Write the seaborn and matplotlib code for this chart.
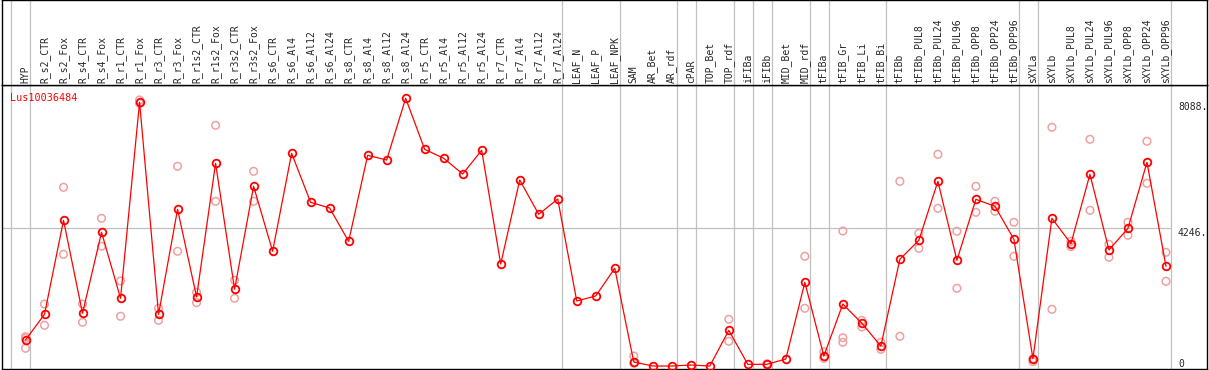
import pandas as pd
import numpy as np
import seaborn as sns
import matplotlib.pyplot as plt

# sample names, left to right
samples = [
    "HYP", "R_s2_CTR", "R_s2_Fox", "R_s4_CTR", "R_s4_Fox", "R_r1_CTR", "R_r1_Fox",
    "R_r3_CTR", "R_r3_Fox", "R_r1s2_CTR", "R_r1s2_Fox", "R_r3s2_CTR", "R_r3s2_Fox",
    "R_s6_CTR", "R_s6_Al4", "R_s6_Al12", "R_s6_Al24", "R_s8_CTR", "R_s8_Al4",
    "R_s8_Al12", "R_s8_Al24", "R_r5_CTR", "R_r5_Al4", "R_r5_Al12", "R_r5_Al24",
    "R_r7_CTR", "R_r7_Al4", "R_r7_Al12", "R_r7_Al24", "LEAF_N", "LEAF_P", "LEAF_NPK",
    "SAM", "AR_Bet", "AR_rdf", "cPAR", "TOP_Bet", "TOP_rdf", "iFIBa", "iFIBb",
    "MID_Bet", "MID_rdf", "tFIBa", "tFIB_Gr", "tFIB_Li", "tFIB_Bi", "tFIBb",
    "tFIBb_PUL8", "tFIBb_PUL24", "tFIBb_PUL96", "tFIBb_OPP8", "tFIBb_OPP24",
    "tFIBb_OPP96", "sXYLa", "sXYLb", "sXYLb_PUL8", "sXYLb_PUL24", "sXYLb_PUL96",
    "sXYLb_OPP8", "sXYLb_OPP24", "sXYLb_OPP96",
]

# mean expression per sample
means = [
    825, 1610, 4480, 1640, 4114, 2098, 8088, 1610, 4817, 2138, 6222, 2373, 5519,
    3534, 6527, 5030, 4856, 3839, 6466, 6322, 8207, 6649, 6375, 5895, 6619,
    3146, 5712, 4664, 5131, 2016, 2169, 3015,
    153, 30, 30, 61, 30, 1120, 82, 82, 244, 2587, 336, 1924, 1335, 641,
    3290, 3870, 5672, 3259, 5122, 4908, 3900,
    255, 4542, 3767, 5885, 3574, 4236, 6252, 3075,
]

# replicate values (empty where only the mean is shown)
replicates = [
    [925, 877, 571], [1924, 1274], [5489, 3442], [1924, 1365], [4542, 3687],
    [2627, 1549], [8155, 8054], [1793, 1426], [6130, 3534], [2282, 1965],
    [7382, 5061], [2648, 2098], [5977, 5061],
    [], [], [], [], [], [], [], [], [], [], [], [], [], [], [], [], [], [], [],
    [336, 113], [], [], [], [], [1457, 785], [], [95, 70], [], [3381, 1793],
    [467, 265], [4154, 895, 754], [1426, 1222], [754, 541], [5672, 938],
    [4084, 3625], [6497, 4847], [4145, 2404], [5519, 4725], [5061, 4756],
    [4420, 3381],
    [255, 163], [7321, 1762], [3839, 3676], [6955, 4786], [3748, 3350],
    [4420, 4023], [6894, 5611], [3503, 2618],
]

# last sample of each group (separator drawn just right of it)
group_ends = [-1, 0, 28, 31, 34, 35, 37, 38, 39, 41, 42, 45, 52, 53, 60]
axis_marks = ["8088.", "4246.", "0"]
gene = "Lus10036484"

mean_df = pd.DataFrame({"pos": np.arange(len(samples)), "value": means})
rep_df = pd.DataFrame(
    [(i, v) for i, vals in enumerate(replicates) for v in vals],
    columns=["pos", "value"],
)

sns.set_style("white")
plt.rcParams["font.family"] = ["DejaVu Sans Mono", "DejaVu Sans"]

W, H = 1209, 370
fig = plt.figure(figsize=(W / 100, H / 100), dpi=100)
ax = fig.add_axes([1.5 / W, 1 / H, 1205.5 / W, 284 / H])
hax = fig.add_axes([1.5 / W, 285 / H, 1205.5 / W, 84.6 / H], sharex=ax)

xlo, xhi = -1.263, 62.158
ax.set_xlim(xlo, xhi)
ax.set_ylim(-61, 8613)

grey = "#c0c0c0"
for g in group_ends:
    ax.axvline(g + 0.25, color=grey, lw=0.9, zorder=0)
    hax.axvline(g + 0.25, color=grey, lw=0.9, zorder=0)
ax.plot([xlo, 60.25], [4246, 4246], color=grey, lw=0.9, zorder=0)

sns.scatterplot(data=rep_df, x="pos", y="value", ax=ax, marker="o",
                facecolor="none", edgecolor="#f0a0a0", linewidth=1.1, s=30,
                zorder=2)
sns.lineplot(data=mean_df, x="pos", y="value", ax=ax, color="red", lw=0.9,
             marker="o", markersize=5.5, markerfacecolor="none",
             markeredgecolor="red", markeredgewidth=1.3, zorder=3)

ax.text(8 / 1205, 1 - 8 / 284, gene, transform=ax.transAxes, color="red",
        fontsize=7.3, ha="left", va="top")

lab_x = (1178 - 26) / 19
ax.text(lab_x, 8088, axis_marks[0], fontsize=7, ha="left", va="top")
ax.text(lab_x, 4246, axis_marks[1], fontsize=7, ha="left", va="top")
ax.text(lab_x, 250, axis_marks[2], fontsize=7, ha="left", va="top")

for i, name in enumerate(samples):
    hax.text(i, 0.02, name, rotation=90, ha="center", va="bottom",
             fontsize=7, transform=hax.get_xaxis_transform())

for a in (ax, hax):
    a.set_xticks([])
    a.set_yticks([])
    a.set_xlabel("")
    a.set_ylabel("")
    for s in a.spines.values():
        s.set_color("black")
        s.set_linewidth(1.0)
hax.set_ylim(0, 1)

fig.savefig("out.png", dpi=100)
